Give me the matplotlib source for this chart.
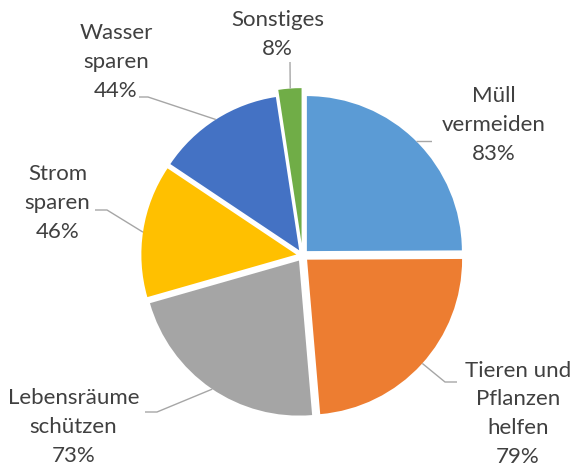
import numpy as np
import matplotlib
matplotlib.use("Agg")
import matplotlib.pyplot as plt

# data
labels = ["Müll\nvermeiden", "Tieren und\nPflanzen\nhelfen", "Lebensräume\nschützen",
          "Strom\nsparen", "Wasser\nsparen", "Sonstiges"]
values = [83, 79, 73, 46, 44, 8]
colors = ["#5B9BD5", "#ED7D31", "#A5A5A5", "#FFC000", "#4472C4", "#70AD47"]
explode = [0.04, 0.04, 0.04, 0.04, 0.04, 0.08]

# layout in pixels of the 572x470 canvas; pie centre and radius
CX, CY, R = 302.5, 255.5, 155.0
W, H = 572, 470


def px(x, y):
    return (x - CX) / R, (CY - y) / R


# label centre x / baseline y of the last line, leader anchor angle, leader bends
text_px = [(494, 160), (518, 463), (73.5, 462), (57.5, 238), (116, 97), (277.5, 55)]
anchor_ang = [45, -42, 236, 171.7, 122.5, 94.2]
bends_px = [[(432, 141.5)],
            [(445, 382), (457, 382)],
            [(157, 412), (145, 412)],
            [(107, 210), (95, 210)],
            [(148, 97), (139, 97)],
            [(290, 62)]]

plt.rcParams['font.family'] = ['Lato', 'DejaVu Sans']

fig = plt.figure(figsize=(W / 100, H / 100), dpi=100)
ax = fig.add_axes([0, 0, 1, 1])
wedges, _ = ax.pie(values, colors=colors, startangle=90, counterclock=False,
                   explode=explode, radius=1.0)

for w, lab, v, tp, ang, bends in zip(wedges, labels, values, text_px, anchor_ang, bends_px):
    cx, cy = w.center
    a = np.deg2rad(ang)
    pts = [(cx + np.cos(a), cy + np.sin(a))] + [px(*b) for b in bends]
    xs, ys = zip(*pts)
    ax.plot(xs, ys, color="#A6A6A6", lw=1.0, solid_capstyle="butt")
    tx, ty = px(*tp)
    ax.text(tx, ty, f"{lab}\n{v}%", ha="center", va="baseline", multialignment="center",
            fontsize=16, color="#404040", linespacing=1.55)

ax.set_aspect("auto")
ax.set_xlim(-CX / R, (W - CX) / R)
ax.set_ylim(-(H - CY) / R, CY / R)
ax.axis("off")

fig.savefig("out.png", dpi=100)
